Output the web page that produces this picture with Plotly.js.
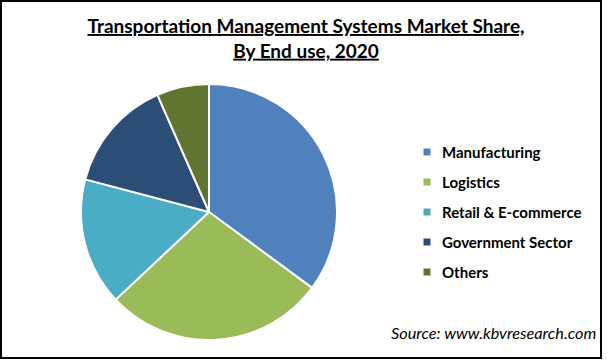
<!DOCTYPE html>
<html>
<head>
<meta charset="utf-8">
<script src="https://cdn.plot.ly/plotly-3.0.1.min.js"></script>
<style>html,body{margin:0;padding:0;background:#fff;}#chart{width:612px;height:360px;}</style>
</head>
<body>
<div id="chart"></div>
<script>
const categories = ["Manufacturing", "Logistics", "Retail & E-commerce", "Government Sector", "Others"];
const shares = [35.1, 27.9, 16.1, 14.3, 6.6];
const colors = ["#4F81BD", "#9BBB59", "#4BACC6", "#2C4D75", "#5F7530"];
const titleText = "Transportation Management Systems Market Share,<br>By End use, 2020";
const sourceText = "Source: www.kbvresearch.com";

const W = 612, H = 360;
const cx = 209, cy = 212, r = 128;
const font = "Lato, 'Open Sans', sans-serif";

const trace = {
  type: "pie",
  labels: categories,
  values: shares,
  sort: false,
  direction: "clockwise",
  rotation: 0,
  textinfo: "none",
  hoverinfo: "label+percent",
  marker: {colors: colors, line: {color: "#ffffff", width: 2}},
  domain: {x: [(cx - r) / W, (cx + r) / W], y: [(H - cy - r) / H, (H - cy + r) / H]},
  showlegend: false
};

const annotations = [];
const shapes = [];
const legX = 440, legY0 = 152, legStep = 30, sq = 7;
categories.forEach((c, i) => {
  const y = legY0 + i * legStep;
  annotations.push({
    text: "<b>" + c + "</b>", x: legX / W, y: 1 - y / H, xref: "paper", yref: "paper",
    xanchor: "left", yanchor: "middle", showarrow: false,
    font: {family: font, size: 15, color: "#000"}
  });
  shapes.push({
    type: "rect", xref: "paper", yref: "paper",
    x0: (427 - sq / 2) / W, x1: (427 + sq / 2) / W,
    y0: 1 - (y + sq / 2) / H, y1: 1 - (y - sq / 2) / H,
    fillcolor: colors[i], line: {width: 0}
  });
});
annotations.push({
  text: "<i>" + sourceText + "</i>", x: 598 / W, y: 1 - 332 / H, xref: "paper", yref: "paper",
  xanchor: "right", yanchor: "middle", showarrow: false,
  font: {family: font, size: 16.3, color: "#000"}
});
shapes.push({
  type: "rect", xref: "paper", yref: "paper",
  x0: 1 / W, x1: 601 / W, y0: 1 - 358 / H, y1: 1 - 1 / H,
  line: {color: "#000", width: 2}, fillcolor: "rgba(0,0,0,0)"
});

const layout = {
  width: W, height: H,
  margin: {l: 0, r: 0, t: 0, b: 0},
  paper_bgcolor: "#fff",
  title: {
    text: "<b>" + titleText + "</b>",
    x: 0.5, xanchor: "center", y: 1 - 33 / H, yanchor: "middle", yref: "paper",
    font: {family: font, size: 19, color: "#000", lineposition: "under"}
  },
  annotations: annotations,
  shapes: shapes
};

Plotly.newPlot("chart", [trace], layout, {displayModeBar: false, staticPlot: true});
</script>
</body>
</html>
